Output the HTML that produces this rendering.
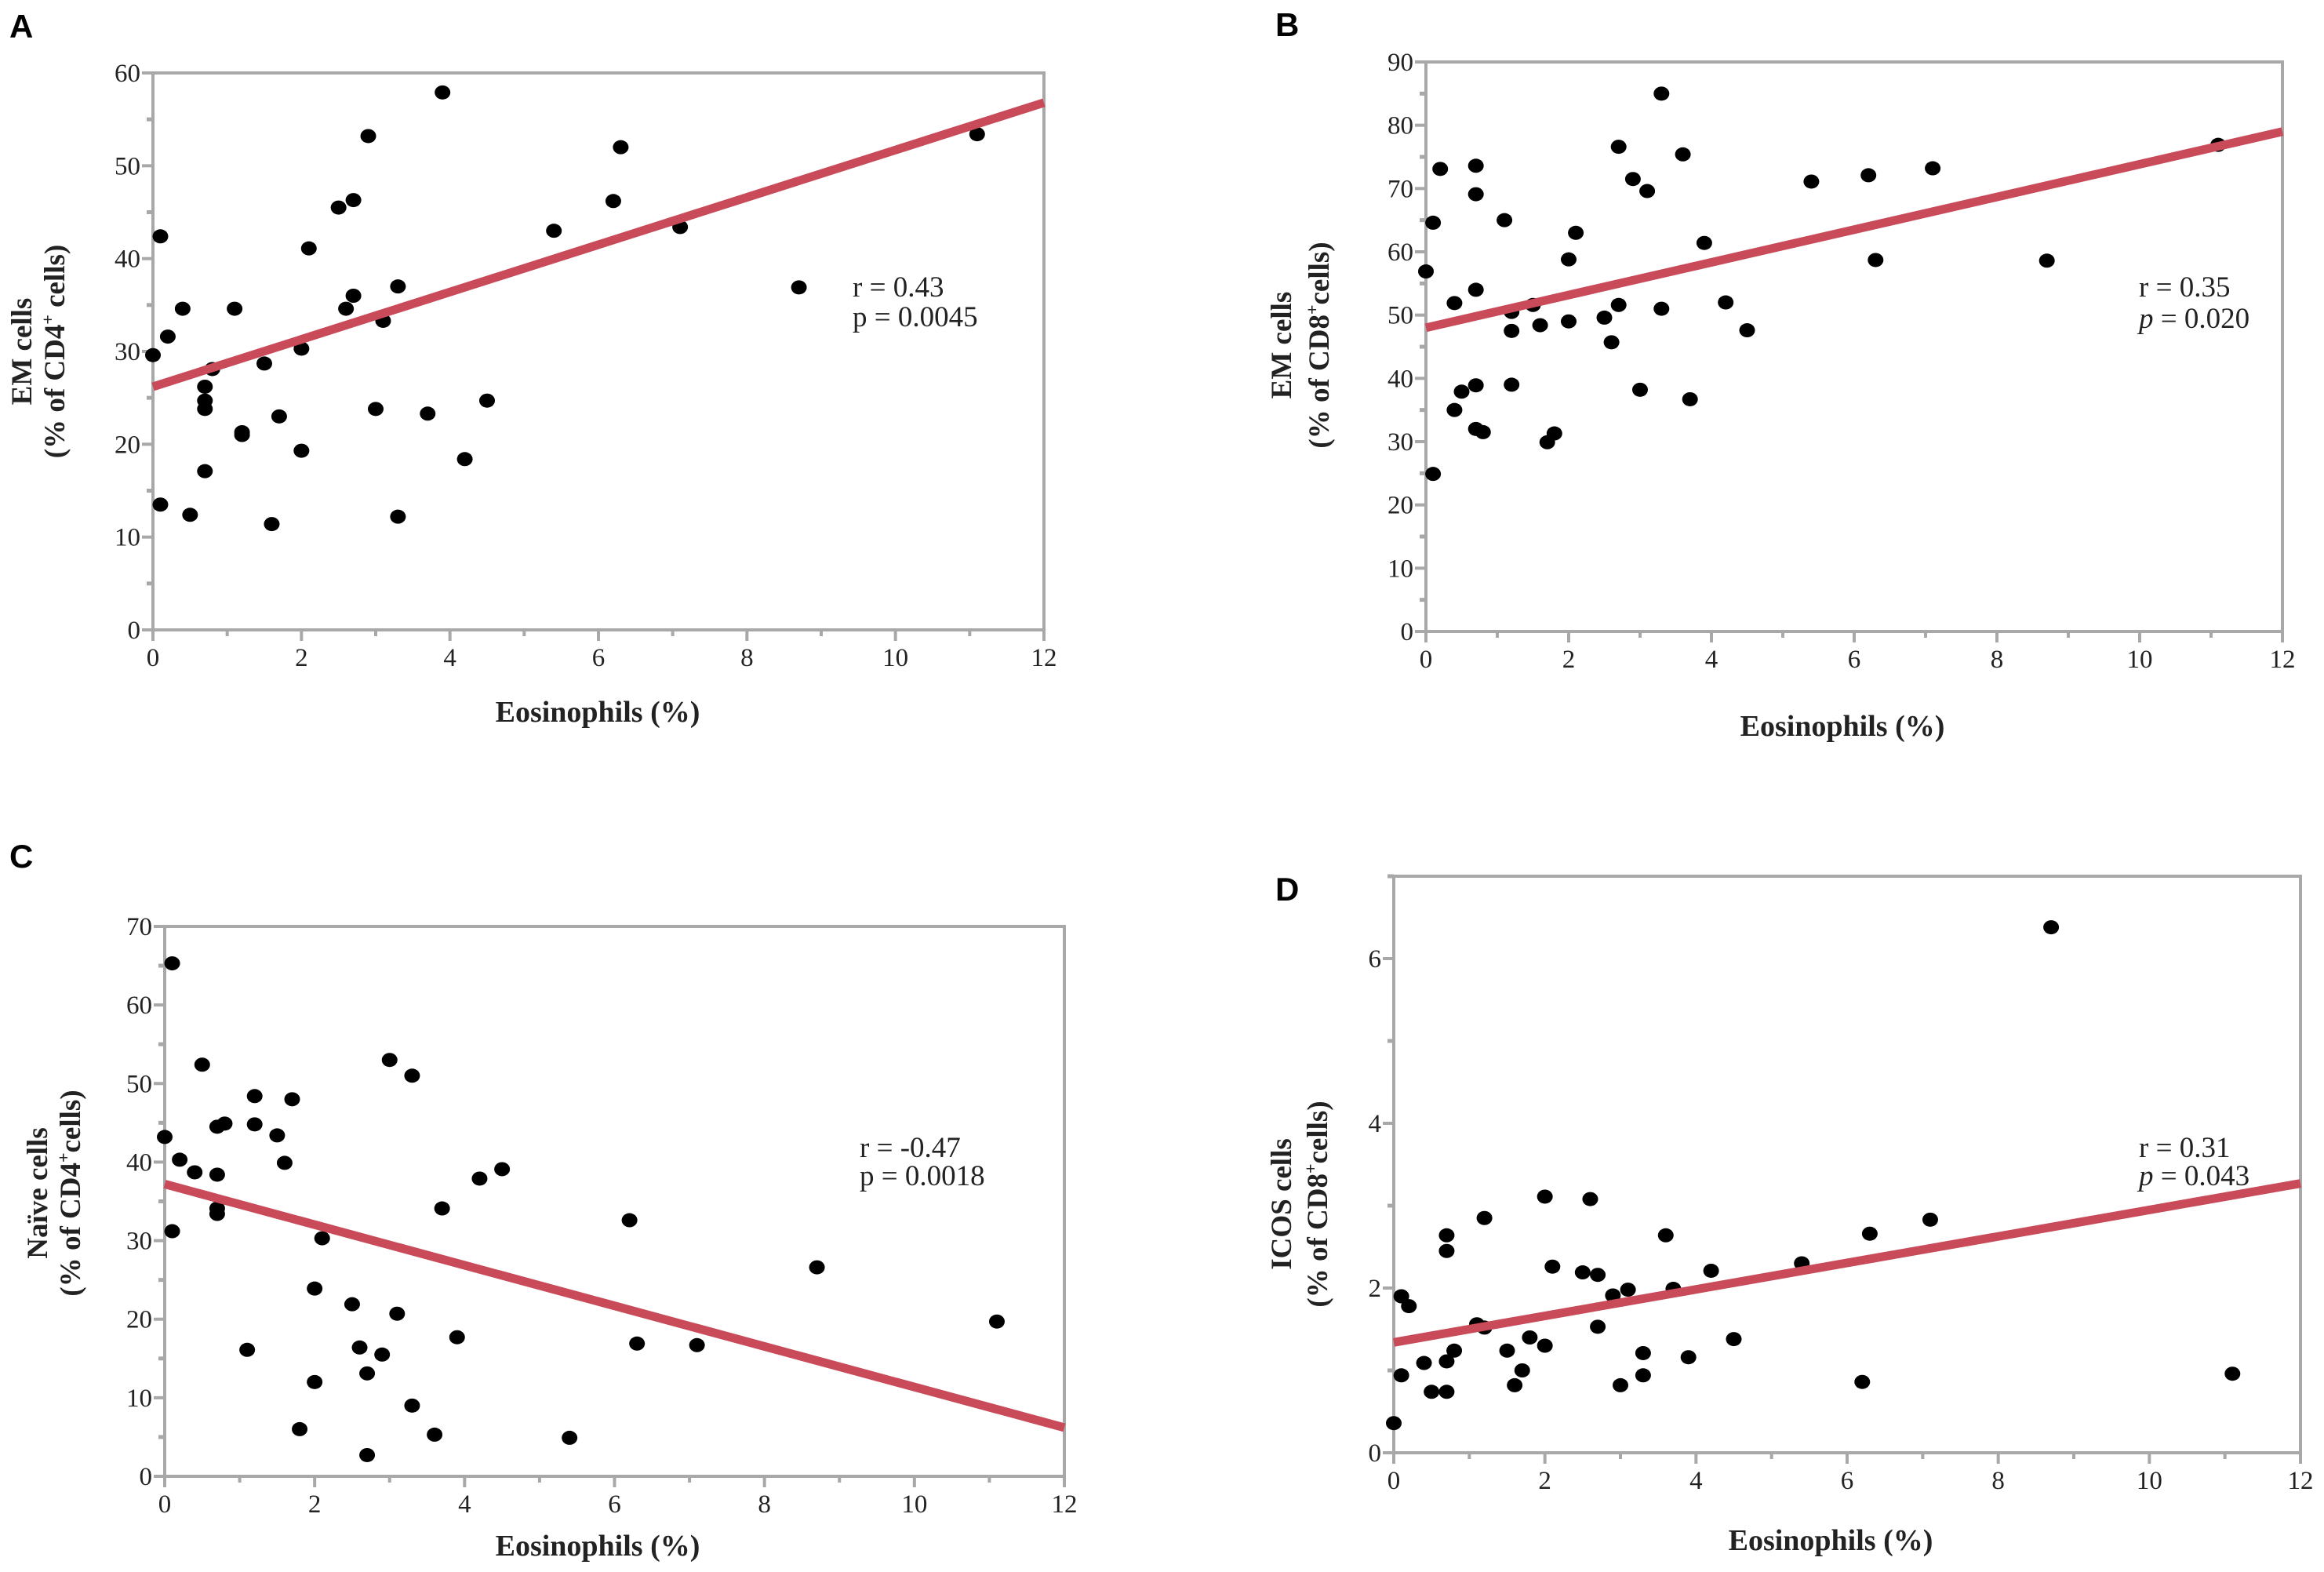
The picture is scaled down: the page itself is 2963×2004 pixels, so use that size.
<!DOCTYPE html>
<html><head><meta charset="utf-8">
<style>
html,body{margin:0;padding:0;background:#fff;}
svg{display:block;}
text{font-family:"Liberation Serif",serif;}
</style></head>
<body>
<svg id="fig" width="2963" height="2004" viewBox="0 0 2963 2004" xmlns="http://www.w3.org/2000/svg"></svg>
<script>
// ---- Data: panel A (EM cells % of CD4+) ----
const xA = [0,0.1,0.1,0.2,0.4,0.5,0.7,0.7,0.7,0.7,0.8,1.1,1.2,1.2,1.5,1.6,1.7,2.0,2.0,2.1,2.5,2.6,2.7,2.7,2.9,3.0,3.1,3.3,3.3,3.7,3.9,4.2,4.5,5.4,6.2,6.3,7.1,8.7,11.1];
const yA = [29.6,42.4,13.5,31.6,34.6,12.4,26.2,24.7,23.8,17.1,28.1,34.6,21.3,21.0,28.7,11.4,23.0,30.3,19.3,41.1,45.5,34.6,46.3,36.0,53.2,23.8,33.3,37.0,12.2,23.3,57.9,18.4,24.7,43.0,46.2,52.0,43.4,36.9,53.4];
const fitA = [26.2,56.8];
// ---- Data: panel B (EM cells % of CD8+) ----
const xB = [0,0.1,0.1,0.2,0.4,0.4,0.5,0.7,0.7,0.7,0.7,0.7,0.8,1.1,1.2,1.2,1.2,1.5,1.6,1.7,1.8,2.0,2.0,2.1,2.5,2.6,2.7,2.7,2.9,3.0,3.1,3.3,3.3,3.6,3.7,3.9,4.2,4.5,5.4,6.2,6.3,7.1,8.7,11.1];
const yB = [56.9,64.6,24.9,73.1,51.9,35.0,37.9,73.6,69.1,54.0,38.9,32.0,31.5,65.0,50.5,47.5,39.0,51.6,48.4,29.9,31.3,58.8,49.0,63.0,49.6,45.7,76.6,51.6,71.5,38.2,69.6,85.0,51.0,75.4,36.7,61.4,52.0,47.6,71.1,72.1,58.7,73.2,58.6,76.9];
const fitB = [48.0,79.0];
// ---- Data: panel C (Naive cells % of CD4+) ----
const xC = [0,0.1,0.1,0.2,0.4,0.5,0.7,0.7,0.7,0.7,0.8,1.1,1.2,1.2,1.5,1.6,1.7,1.8,2.0,2.0,2.1,2.5,2.6,2.7,2.7,2.9,3.0,3.1,3.3,3.3,3.6,3.7,3.9,4.2,4.5,5.4,6.2,6.3,7.1,8.7,11.1];
const yC = [43.2,65.3,31.2,40.3,38.7,52.4,44.5,38.4,34.1,33.4,44.9,16.1,48.4,44.8,43.4,39.9,48.0,6.0,23.9,12.0,30.3,21.9,16.4,13.1,2.7,15.5,53.0,20.7,51.0,9.0,5.3,34.1,17.7,37.9,39.1,4.9,32.6,16.9,16.7,26.6,19.7];
const fitC = [37.2,6.2];
// ---- Data: panel D (ICOS cells % of CD8+) ----
const xD = [0,0.1,0.1,0.2,0.4,0.5,0.7,0.7,0.7,0.7,0.8,1.1,1.2,1.2,1.5,1.6,1.7,1.8,2.0,2.0,2.1,2.5,2.6,2.7,2.7,2.9,3.0,3.1,3.3,3.3,3.6,3.7,3.9,4.2,4.5,5.4,6.2,6.3,7.1,8.7,11.1];
const yD = [0.36,1.90,0.94,1.78,1.09,0.74,2.64,2.45,1.11,0.74,1.24,1.56,2.85,1.52,1.24,0.82,1.00,1.40,3.11,1.30,2.26,2.19,3.08,2.16,1.53,1.91,0.82,1.98,1.21,0.94,2.64,1.99,1.16,2.21,1.38,2.30,0.86,2.66,2.83,6.38,0.96];
const fitD = [1.34,3.27];
const xTicks = [0,2,4,6,8,10,12];

const NS='http://www.w3.org/2000/svg';
const svg=document.getElementById('fig');
const SERIF='"Liberation Serif", serif';
function mk(tag,attrs,parent){const e=document.createElementNS(NS,tag);for(const k in attrs)e.setAttribute(k,attrs[k]);(parent||svg).appendChild(e);return e;}

const panels=[
 {id:'a',letter:'A',lx:12,ly:48,L:195,R:1331,T:93,B:803,ymax:60,major:10,minor:5,xs:xA,ys:yA,fit:fitA,
  yl1:'EM cells',yl2a:'(% of CD4',yl2b:' cells)',ylx:[40,82],yly:448,xtx:762,xty:920,
  r:'r = 0.43',p:'p = 0.0045',pItalic:false,sx:1087,sy:[366,404]},
 {id:'b',letter:'B',lx:1626,ly:46,L:1818,R:2910,T:79,B:805,ymax:90,major:10,minor:5,xs:xB,ys:yB,fit:fitB,
  yl1:'EM cells',yl2a:'(% of CD8',yl2b:'cells)',ylx:[1646,1694],yly:440,xtx:2349,xty:938,
  r:'r = 0.35',p:'= 0.020',pItalic:true,sx:2727,sy:[366,406]},
 {id:'c',letter:'C',lx:12,ly:1106,L:210,R:1357,T:1181,B:1882,ymax:70,major:10,minor:5,xs:xC,ys:yC,fit:fitC,
  yl1:'Naïve cells',yl2a:'(% of CD4',yl2b:'cells)',ylx:[60,102],yly:1521,xtx:762,xty:1983,
  r:'r = -0.47',p:'p = 0.0018',pItalic:false,sx:1096,sy:[1463,1499]},
 {id:'d',letter:'D',lx:1626,ly:1148,L:1777,R:2933,T:1117,B:1852,ymax:7,major:2,minor:1,xs:xD,ys:yD,fit:fitD,
  yl1:'ICOS cells',yl2a:'(% of CD8',yl2b:'cells)',ylx:[1646,1692],yly:1535,xtx:2334,xty:1976,
  r:'r = 0.31',p:'= 0.043',pItalic:true,sx:2727,sy:[1463,1499]}
];

panels.forEach(P=>{
 const g=mk('g',{});
 
 
 const X=v=>P.L+(v/12)*(P.R-P.L);
 const Y=v=>P.B-(v/P.ymax)*(P.B-P.T);
 const lt=mk('text',{x:P.lx,y:P.ly,'font-size':42,'font-weight':'bold','font-family':'"Liberation Sans", sans-serif',style:'font-family:"Liberation Sans",sans-serif'},g);
 lt.textContent=P.letter;
 
 
 const fr=mk('rect',{x:P.L,y:P.T,width:P.R-P.L,height:P.B-P.T,fill:'none',stroke:'#a8a8a8','stroke-width':4},g);
 
 
 for(let v=0;v<=P.ymax+1e-9;v+=P.minor){
  const isMaj=Math.abs(v/P.major-Math.round(v/P.major))<1e-9;
  const t=mk('line',{x1:P.L-(isMaj?14:8),x2:P.L,y1:Y(v),y2:Y(v),stroke:'#a8a8a8','stroke-width':isMaj?4:5},g);
  
  
  if(isMaj && !(P.id==='d'&&v===7)){
   const tl=mk('text',{x:P.L-16,y:Y(v)+11,'font-size':33,'text-anchor':'end',fill:'#222','font-family':SERIF},g);
   tl.textContent=String(Math.round(v));
   
   
  }
 }
 for(let v=0;v<=12;v++){
  const isMaj=v%2===0;
  const t=mk('line',{x1:X(v),x2:X(v),y1:P.B,y2:P.B+(isMaj?14:8),stroke:'#a8a8a8','stroke-width':4},g);
  
  
 }
 xTicks.forEach(v=>{
  const tl=mk('text',{x:X(v),y:P.B+46,'font-size':33,'text-anchor':'middle',fill:'#222','font-family':SERIF},g);
  tl.textContent=String(v);
  
  
 });
 P.xs.forEach((xv,i)=>{
  const c=mk('ellipse',{cx:X(xv),cy:Y(P.ys[i]),rx:10,ry:9,fill:'#000'},g);
  
  
 });
 const fl=mk('line',{x1:X(0),y1:Y(P.fit[0]),x2:X(12),y2:Y(P.fit[1]),stroke:'#c94a58','stroke-width':11},g);
 
 
 const s1=mk('text',{x:P.sx,y:P.sy[0]+12,'font-size':37,fill:'#222','font-family':SERIF},g);
 s1.textContent=P.r;
 
 
 const s2=mk('text',{x:P.sx,y:P.sy[1]+12,'font-size':37,fill:'#222','font-family':SERIF},g);
 if(P.pItalic){const ip=mk('tspan',{'font-style':'italic'},s2);ip.textContent='p';const rest=mk('tspan',{},s2);rest.textContent=' '+P.p;}
 else s2.textContent=P.p;
 
 
 const yt=mk('text',{transform:`translate(${P.ylx[0]},${P.yly}) rotate(-90)`,'font-size':37,'font-weight':'bold','text-anchor':'middle',fill:'#222','font-family':SERIF},g);
 yt.textContent=P.yl1;
 
 
 const yt2=mk('text',{transform:`translate(${P.ylx[1]},${P.yly}) rotate(-90)`,'font-size':37,'font-weight':'bold','text-anchor':'middle',fill:'#222','font-family':SERIF},g);
 const a=mk('tspan',{},yt2);a.textContent=P.yl2a;
 const sup=mk('tspan',{'font-size':22,dy:-14},yt2);sup.textContent='+';
 const b=mk('tspan',{dy:14},yt2);b.textContent=P.yl2b;
 
 
 const xt=mk('text',{x:P.xtx,y:P.xty,'font-size':38,'font-weight':'bold','text-anchor':'middle',fill:'#222','font-family':SERIF},g);
 xt.textContent='Eosinophils (%)';
 
 
});
</script>
</body></html>
